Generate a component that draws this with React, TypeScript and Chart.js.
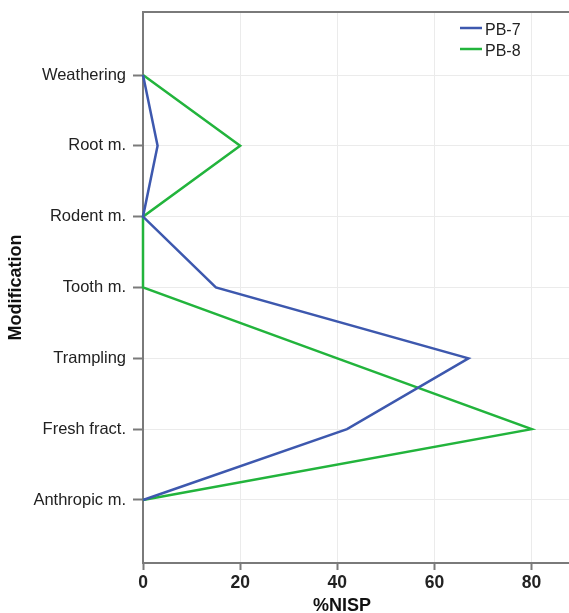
import React, { useEffect, useRef } from 'react';
import { Chart, registerables } from 'chart.js';

Chart.register(...registerables);

const categories = ['Weathering', 'Root m.', 'Rodent m.', 'Tooth m.', 'Trampling', 'Fresh fract.', 'Anthropic m.'];
const pb7 = [0, 3, 0, 15, 67, 42, 0];
const pb8 = [0, 20, 0, 0, 40, 80, 0];
const seriesNames = ['PB-7', 'PB-8'];
const seriesColors = ['#3d58ae', '#22b43c'];
const xTickValues = [0, 20, 40, 60, 80];
const xTitle = '%NISP';
const yTitle = 'Modification';

const FONT = '"Liberation Sans", Arial, Helvetica, sans-serif';
const AXIS = '#7a7a7a';
const GRID = '#ebebeb';

const legendPlugin = {
  id: 'customLegend',
  afterDraw(chart: any) {
    const { ctx, chartArea } = chart;
    const x0 = chartArea.right - 109;
    chart.data.datasets.forEach((ds: any, i: number) => {
      const y = chartArea.top + 16 + i * 21;
      ctx.save();
      ctx.strokeStyle = ds.borderColor;
      ctx.lineWidth = 2.5;
      ctx.beginPath();
      ctx.moveTo(x0, y);
      ctx.lineTo(x0 + 22, y);
      ctx.stroke();
      ctx.fillStyle = '#222';
      ctx.font = `16px ${FONT}`;
      ctx.textBaseline = 'middle';
      ctx.textAlign = 'left';
      ctx.fillText(ds.label, x0 + 25, y + 2.5);
      ctx.restore();
    });
  },
};

const framePlugin = {
  id: 'frameAndTitle',
  afterDraw(chart: any) {
    const { ctx, chartArea } = chart;
    ctx.save();
    ctx.strokeStyle = AXIS;
    ctx.lineWidth = 2;
    ctx.beginPath();
    ctx.moveTo(chartArea.left, chartArea.top);
    ctx.lineTo(chartArea.right, chartArea.top);
    ctx.stroke();
    ctx.fillStyle = '#111';
    ctx.font = `bold 18px ${FONT}`;
    ctx.textAlign = 'center';
    ctx.textBaseline = 'alphabetic';
    ctx.fillText(xTitle, (chartArea.left + chartArea.right) / 2 - 14, chart.height - 2);
    ctx.restore();
  },
};

export default function App() {
  const ref = useRef<HTMLCanvasElement | null>(null);

  useEffect(() => {
    if (!ref.current) return;
    const series = [pb7, pb8];
    const chart = new Chart(ref.current, {
      type: 'line',
      data: {
        datasets: series.map((vals, si) => ({
          label: seriesNames[si],
          data: vals.map((v, i) => ({ x: v, y: i })),
          borderColor: seriesColors[si],
          backgroundColor: seriesColors[si],
          borderWidth: 2.5,
          pointRadius: 0,
          tension: 0,
          fill: false,
          clip: false,
        })),
      },
      options: {
        responsive: false,
        animation: false,
        layout: { padding: { top: 12, right: 0, left: 0, bottom: 0 } },
        plugins: {
          legend: { display: false },
          tooltip: { enabled: false },
        },
        scales: {
          x: {
            type: 'linear',
            position: 'bottom',
            min: 0,
            max: 87.7,
            afterFit(scale: any) {
              scale.height = 50;
              scale.paddingLeft = 0;
              scale.paddingRight = 0;
            },
            afterBuildTicks(scale: any) {
              scale.ticks = xTickValues.map((v) => ({ value: v }));
            },
            ticks: {
              color: '#222',
              font: { family: FONT, size: 17.5, weight: 'bold' },
              padding: 3,
              maxRotation: 0,
            },
            grid: {
              color: GRID,
              lineWidth: 1,
              tickColor: AXIS,
              tickLength: 7,
              tickWidth: 2,
            },
            border: { color: AXIS, width: 2 },
            title: { display: false },
          },
          y: {
            type: 'linear',
            reverse: true,
            min: -0.89,
            max: 6.89,
            afterFit(scale: any) {
              scale.width = 143;
              scale.paddingTop = 0;
              scale.paddingBottom = 0;
            },
            afterBuildTicks(scale: any) {
              scale.ticks = categories.map((_, i) => ({ value: i }));
            },
            ticks: {
              color: '#222',
              font: { family: FONT, size: 16.5 },
              padding: 7,
              callback: (v: any) => categories[v as number] ?? '',
            },
            grid: {
              color: GRID,
              lineWidth: 1,
              tickColor: AXIS,
              tickLength: 10,
              tickWidth: 2,
            },
            border: { color: AXIS, width: 2 },
            title: {
              display: true,
              text: yTitle,
              color: '#111',
              font: { family: FONT, size: 18, weight: 'bold' },
              padding: { top: 5, bottom: 4 },
            },
          },
        },
      },
      plugins: [legendPlugin, framePlugin],
    } as any);
    return () => chart.destroy();
  }, []);

  return (
    <div style={{ position: 'absolute', left: 0, top: 0, width: 569, height: 613, background: '#fff' }}>
      <canvas ref={ref} width={569} height={613} />
    </div>
  );
}
